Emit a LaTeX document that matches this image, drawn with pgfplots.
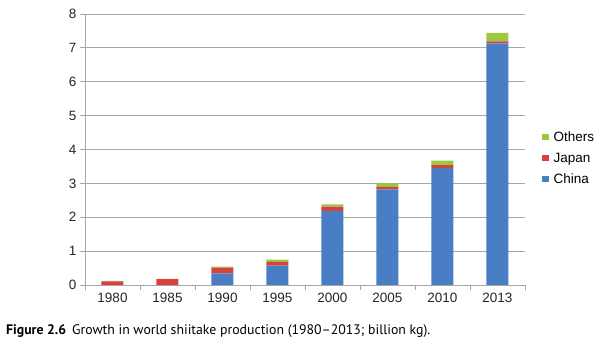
\documentclass[border=0pt]{standalone}
\usepackage{fontspec}
\setmainfont{Liberation Sans}
\newfontfamily\capfont{PT Sans}
\usepackage{pgfplots}
\pgfplotsset{compat=1.18}
\definecolor{cchina}{HTML}{4A7EC4}
\definecolor{cjapan}{HTML}{D9413F}
\definecolor{cothers}{HTML}{9BC83E}
\definecolor{gridc}{HTML}{A6A6A6}
\begin{document}
\begin{tikzpicture}
\path[use as bounding box] (-85bp,-61bp) rectangle (515bp,285bp);
\begin{axis}[
  at={(0,0)}, anchor=south west,
  scale only axis, width=440bp, height=271bp,
  ybar stacked, bar width=22bp,
  xmin=-0.5, xmax=7.5, ymin=0, ymax=8,
  xtick={0,...,7},
  xticklabels={1980,1985,1990,1995,2000,2005,2010,2013},
  major x tick style={draw=none},
  minor xtick={-0.5,0.5,...,7.5},
  ytick={0,...,8},
  axis lines=left,
  axis line style={-, draw=gridc, line width=0.8bp},
  ymajorgrids, grid style={draw=gridc, line width=0.8bp},
  tick align=outside,
  tick style={draw=gridc, line width=0.8bp},
  major tick length=5bp, minor tick length=5bp,
  tick label style={font=\fontsize{13.5bp}{16bp}\selectfont, text=black!85},
  /pgf/number format/assume math mode=true,
  legend style={draw=none, fill=none, at={(1,0.467)}, anchor=west, xshift=14bp,
    font=\fontsize{13.5bp}{16bp}\selectfont, row sep=6bp,
    /tikz/every odd column/.style={column sep=3bp}},
  legend cell align=left,
  reverse legend,
  legend image code/.code={\fill[#1,draw=none] (0bp,-3bp) rectangle (6.5bp,3.5bp);},
]
\addplot[fill=cchina, draw=none] coordinates {(0,0) (1,0) (2,0.34) (3,0.57) (4,2.19) (5,2.82) (6,3.45) (7,7.13)};
\addlegendentry{China}
\addplot[fill=cjapan, draw=none] coordinates {(0,0.11) (1,0.17) (2,0.17) (3,0.11) (4,0.12) (5,0.08) (6,0.09) (7,0.06)};
\addlegendentry{Japan}
\addplot[fill=cothers, draw=none] coordinates {(0,0.01) (1,0.01) (2,0.03) (3,0.07) (4,0.07) (5,0.10) (6,0.13) (7,0.25)};
\addlegendentry{Others}
\end{axis}
\node[anchor=base west, inner sep=0pt, font=\capfont\fontsize{13.8bp}{16bp}\selectfont] at (-79bp,-49bp)
  {\textbf{Figure 2.6}\hspace{6bp}Growth in world shiitake production (1980–2013; billion kg).};
\end{tikzpicture}
\end{document}
